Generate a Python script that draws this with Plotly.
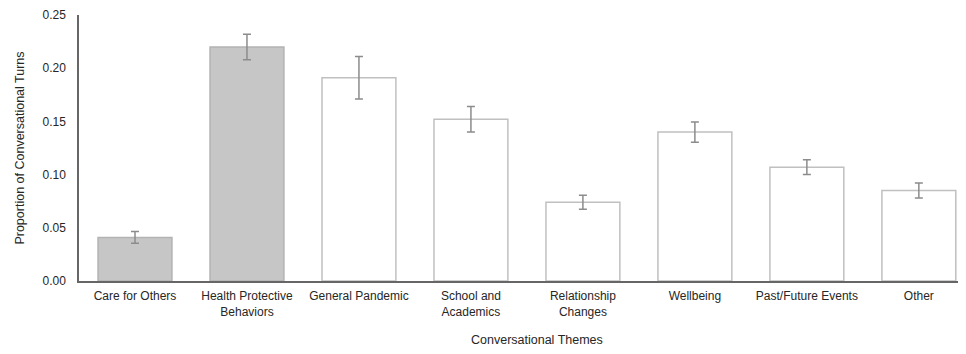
import plotly.graph_objects as go

categories = ["Care for Others", "Health Protective<br>Behaviors", "General Pandemic",
              "School and<br>Academics", "Relationship<br>Changes", "Wellbeing",
              "Past/Future Events", "Other"]
values = [0.041, 0.220, 0.191, 0.152, 0.074, 0.140, 0.107, 0.085]
errors = [0.0055, 0.012, 0.020, 0.012, 0.0066, 0.0095, 0.007, 0.007]
highlight = [True, True, False, False, False, False, False, False]
y_ticks = [0.00, 0.05, 0.10, 0.15, 0.20, 0.25]

fill_colors = ["#c6c6c6" if h else "#ffffff" for h in highlight]
line_colors = ["#b3b3b3" if h else "#c0c0c0" for h in highlight]

fig = go.Figure(go.Bar(
    x=categories, y=values, width=0.66,
    marker=dict(color=fill_colors, line=dict(color=line_colors, width=1.5)),
    error_y=dict(type="data", array=errors, visible=True, color="#8c8c8c",
                 thickness=1.5, width=4),
))

font = dict(family="Liberation Sans, Arial, sans-serif", size=12, color="#262626")
fig.update_layout(
    width=966, height=354,
    margin=dict(l=71, r=7, t=7, b=81),
    plot_bgcolor="white", paper_bgcolor="white",
    font=font, showlegend=False,
    xaxis=dict(
        range=[-0.5, 7.43], showline=True, linecolor="#666666", linewidth=1.5,
        showgrid=False, ticks="", ticklabelstandoff=3, automargin=False,
    ),
    yaxis=dict(
        range=[0, 0.25], tickvals=y_ticks, tickformat=".2f",
        showline=True, linecolor="#666666", linewidth=1.5, automargin=False,
        showgrid=False, zeroline=False, ticks="", ticklabelstandoff=9,
        title=dict(text="Proportion of Conversational Turns", standoff=15,
                   font=dict(size=12.5)),
    ),
    annotations=[dict(
        text="Conversational Themes", xref="paper", yref="paper",
        x=0.516, y=0, xanchor="center", yanchor="middle", yshift=-59,
        showarrow=False, font=dict(family=font["family"], size=12.5, color=font["color"]),
    )],
)

fig.write_html("out.html")
